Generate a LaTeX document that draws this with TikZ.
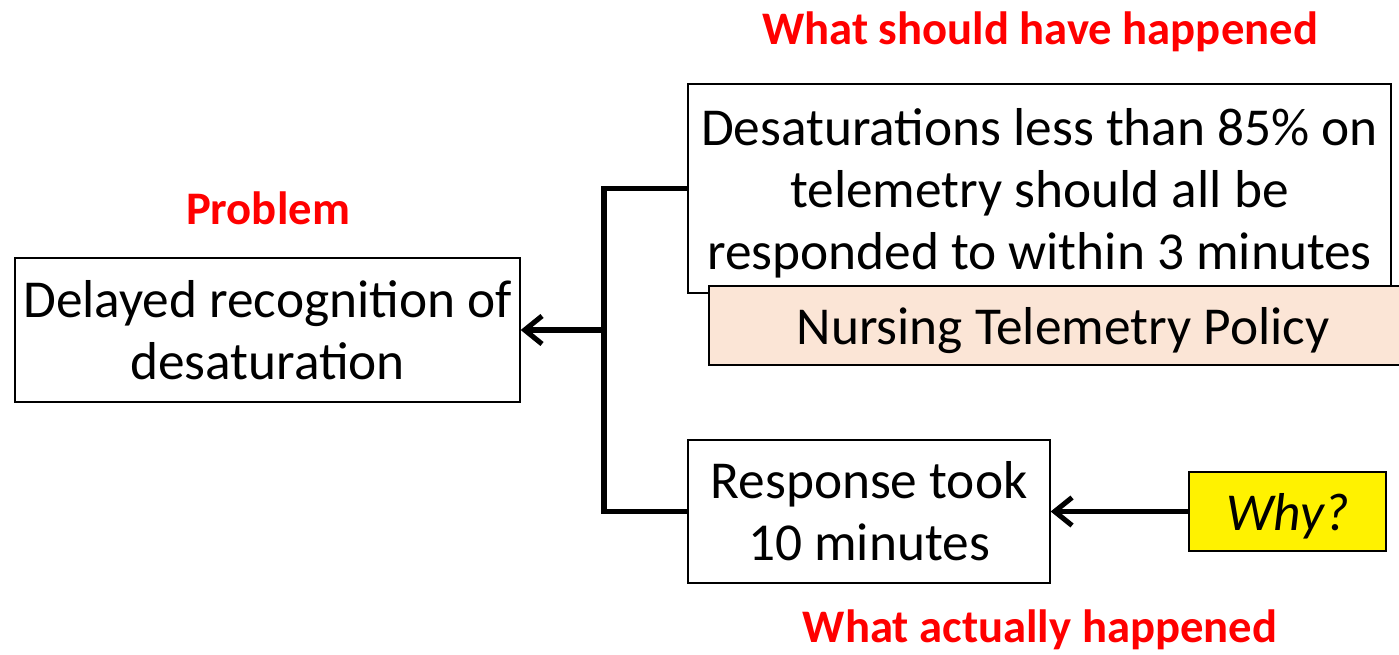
\documentclass[tikz,border=0pt]{standalone}
\usepackage{fontspec}
\setmainfont{Carlito}
\usetikzlibrary{arrows.meta}
\definecolor{policyfill}{HTML}{FBE5D6}
\definecolor{labelred}{HTML}{FF0000}
\tikzset{
  box/.style={draw=black, line width=1pt, fill=white, align=center, inner sep=0pt,
    font=\fontsize{40pt}{46.5pt}\selectfont},
  heading/.style={text=labelred, font=\fontsize{35pt}{40pt}\selectfont\bfseries, inner sep=0pt},
  link/.style={line width=4.2pt},
  arrowlink/.style={line width=4pt, -{Straight Barb[length=13pt,width=21pt,line width=3.8pt]}}
}
\begin{document}
\begin{tikzpicture}[x=0.75pt, y=-0.75pt]
  \clip (0,0) rectangle (1399,655);
  \useasboundingbox (0,0) rectangle (1399,655);
  \fill[white] (0,0) rectangle (1399,655);

  % headings
  \node[heading] (hshould) at (1040,32) {What should have happened};
  \node[heading] (hprob) at (268,208) {Problem};
  \node[heading] (hactual) at (1040,630) {What actually happened};

  % boxes
  \node[box, minimum width=378.75pt, minimum height=108pt] (prob) at (267.5,330)
    {Delayed recognition of\\desaturation};
  \node[box, text depth=0pt, minimum width=527.25pt, minimum height=156.75pt] (should) at (1039.5,188.5)
    {Desaturations less than 85\% on\\telemetry should all be\\responded to within 3 minutes};
  \node[box, text depth=0pt, fill=policyfill, minimum width=531pt, minimum height=59.25pt] (policy) at (1063,325.5)
    {Nursing Telemetry Policy};
  \node[box, minimum width=271.5pt, minimum height=107.25pt] (actual) at (869,511.5)
    {Response took\\10 minutes};
  \node[box, text depth=0pt, fill=yellow, minimum width=147.75pt, minimum height=59.25pt] (why) at (1287.5,511.5)
    {\itshape Why?};

  % connectors
  \coordinate (junction) at (604,330);
  \draw[link] (should.west) -| (junction) |- (actual.west);
  \draw[arrowlink] (junction) -- (prob.east);
  \draw[arrowlink] (why.west) -- (actual.east);
\end{tikzpicture}
\end{document}
